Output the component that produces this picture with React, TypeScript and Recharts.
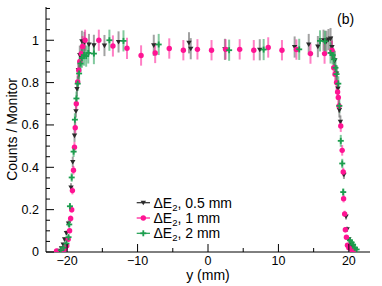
import React from 'react';
import { ScatterChart, Scatter, XAxis, YAxis, ErrorBar, Legend } from 'recharts';

// ---- data: ΔE2, 0.5 mm (dark, triangles) ----
const blackX = [-21.1, -20.8, -20.55, -20.35, -20.1, -19.8, -19.45, -19.2, -18.95, -18.75, -18.6, -18.4, -18.2, -17.9, -17.55, -16.9, -16.2, -14.7, -12.7, -7.7, -2.7, -2.45, 2.4, 7.35, 12.3, 14.3, 15.6, 16.4, 16.8, 17.1, 17.4, 17.6, 18.0, 18.25, 18.45, 18.65, 18.8, 19.3, 19.6, 19.75, 20.0, 20.3, 20.6, 20.9];
const blackY = [0.006, 0.018, 0.035, 0.06, 0.09, 0.135, 0.305, 0.425, 0.55, 0.665, 0.77, 0.86, 0.93, 0.995, 0.99, 0.98, 0.976, 0.975, 0.992, 0.976, 0.988, 0.96, 0.957, 0.955, 0.968, 0.98, 0.97, 1.0, 0.995, 1.003, 1.008, 0.968, 0.905, 0.843, 0.772, 0.67, 0.615, 0.365, 0.168, 0.108, 0.06, 0.035, 0.025, 0.012];
const blackErr = [0.004, 0.006, 0.008, 0.01, 0.012, 0.015, 0.02, 0.025, 0.03, 0.03, 0.035, 0.04, 0.045, 0.05, 0.05, 0.05, 0.05, 0.05, 0.05, 0.05, 0.05, 0.05, 0.05, 0.05, 0.05, 0.05, 0.05, 0.05, 0.05, 0.05, 0.05, 0.05, 0.045, 0.04, 0.04, 0.035, 0.03, 0.02, 0.015, 0.012, 0.01, 0.008, 0.006, 0.005];

// ---- data: ΔE2, 1 mm (magenta, circles) ----
const magentaX = [-21.5, -20.6, -20.3, -20.05, -19.85, -19.65, -19.5, -19.35, -19.25, -19.1, -18.96, -18.85, -18.7, -18.5, -18.35, -18.2, -18.0, -17.8, -17.45, -15.5, -13.5, -11.5, -9.5, -7.5, -5.5, -3.5, -1.5, 0.5, 2.5, 4.5, 6.5, 8.55, 10.5, 12.55, 14.55, 16.55, 17.6, 17.85, 18.05, 18.25, 18.4, 18.5, 18.6, 18.85, 19.05, 19.2, 19.25, 19.4, 19.5, 19.65, 19.8, 20.0, 20.4, 20.8];
const magentaY = [0.005, 0.008, 0.015, 0.03, 0.06, 0.1, 0.158, 0.2, 0.29, 0.386, 0.495, 0.587, 0.7, 0.803, 0.858, 0.9, 0.937, 0.97, 1.0, 1.0, 0.973, 0.962, 0.928, 0.94, 0.961, 0.953, 0.957, 0.953, 0.957, 0.957, 0.953, 0.966, 0.953, 0.956, 0.937, 0.937, 0.953, 0.87, 0.84, 0.8, 0.756, 0.73, 0.69, 0.595, 0.48, 0.378, 0.252, 0.18, 0.105, 0.07, 0.032, 0.02, 0.011, 0.005];
const magentaErr = [0.004, 0.004, 0.005, 0.007, 0.01, 0.012, 0.014, 0.015, 0.018, 0.02, 0.025, 0.028, 0.03, 0.035, 0.04, 0.04, 0.045, 0.05, 0.05, 0.05, 0.05, 0.05, 0.048, 0.048, 0.048, 0.048, 0.048, 0.048, 0.048, 0.048, 0.048, 0.048, 0.048, 0.048, 0.048, 0.048, 0.045, 0.04, 0.04, 0.035, 0.035, 0.033, 0.03, 0.028, 0.025, 0.02, 0.018, 0.015, 0.012, 0.01, 0.007, 0.006, 0.005, 0.004];

// ---- data: ΔE2, 2 mm (green, crosses) ----
const greenX = [-20.9, -20.5, -20.1, -19.8, -19.7, -19.6, -19.35, -19.08, -18.9, -18.68, -18.5, -18.3, -18.1, -17.9, -17.6, -17.3, -17.0, -16.2, -14.0, -12.0, -7.0, 3.0, 7.9, 12.95, 15.9, 16.6, 17.4, 17.7, 17.9, 18.1, 18.25, 18.5, 18.65, 18.85, 19.06, 19.2, 20.15, 20.4, 20.6, 20.85, 21.1];
const greenY = [0.008, 0.02, 0.04, 0.07, 0.13, 0.216, 0.352, 0.474, 0.625, 0.725, 0.795, 0.843, 0.89, 0.915, 0.93, 0.925, 0.94, 0.937, 1.0, 0.997, 0.98, 0.953, 0.956, 0.957, 0.997, 0.995, 0.94, 0.93, 0.91, 0.87, 0.84, 0.795, 0.69, 0.525, 0.418, 0.283, 0.055, 0.045, 0.035, 0.02, 0.012];
const greenErr = [0.004, 0.006, 0.008, 0.01, 0.013, 0.015, 0.02, 0.025, 0.03, 0.033, 0.035, 0.04, 0.04, 0.045, 0.05, 0.05, 0.05, 0.05, 0.05, 0.05, 0.05, 0.05, 0.05, 0.05, 0.05, 0.05, 0.05, 0.045, 0.045, 0.04, 0.04, 0.035, 0.033, 0.028, 0.022, 0.018, 0.01, 0.008, 0.007, 0.005, 0.004];

// ---- ticks / labels ----
const xTickValues = [-20, -15, -10, -5, 0, 5, 10, 15, 20];
const xMajorTicks = [-20, -10, 0, 10, 20];
const xTickLabels = ['\u221220', '\u221210', '0', '10', '20'];
const yTickValues = [0, 0.05, 0.1, 0.15, 0.2, 0.25, 0.3, 0.35, 0.4, 0.45, 0.5, 0.55, 0.6, 0.65, 0.7, 0.75, 0.8, 0.85, 0.9, 0.95, 1.0, 1.05, 1.1, 1.15];
const yMajorTicks = [0, 0.2, 0.4, 0.6, 0.8, 1.0];
const yTickLabels = ['0', '0.2', '0.4', '0.6', '0.8', '1'];
const seriesNames = ['0.5 mm', '1 mm', '2 mm'];

const FONT = '"Liberation Sans", Arial, Helvetica, sans-serif';
const C_BLACK = '#2b2b2b';
const C_MAG = '#ff1493';
const C_GREEN = '#1c9e4e';

const toPoints = (xs: number[], ys: number[], es: number[]) =>
  xs.map((x, i) => ({ x, y: ys[i], err: es[i] }));

const blackData = toPoints(blackX, blackY, blackErr);
const magentaData = toPoints(magentaX, magentaY, magentaErr);
const greenData = toPoints(greenX, greenY, greenErr);

const majorIndex = (list: number[], v: number) => list.findIndex((m) => Math.abs(m - v) < 1e-9);

const XTick = (props: any) => {
  const { x, y, payload } = props;
  const idx = majorIndex(xMajorTicks, payload.value);
  const major = idx >= 0;
  return (
    <g>
      <line x1={x} x2={x} y1={y} y2={y - (major ? 8 : 4)} stroke="#000" strokeWidth={1} />
      {major && (
        <text x={x} y={y + 13} textAnchor="middle" fontSize={12.5} fontFamily={FONT} fill="#000">
          {xTickLabels[idx]}
        </text>
      )}
    </g>
  );
};

const YTick = (props: any) => {
  const { x, y, payload } = props;
  const idx = majorIndex(yMajorTicks, payload.value);
  const major = idx >= 0;
  return (
    <g>
      <line x1={x} x2={x + (major ? 8 : 4)} y1={y} y2={y} stroke="#000" strokeWidth={1} />
      {major && (
        <text x={x - 7} y={y + 4.4} textAnchor="end" fontSize={12.5} fontFamily={FONT} fill="#000">
          {yTickLabels[idx]}
        </text>
      )}
    </g>
  );
};

const Triangle = ({ cx, cy, color }: any) => (
  <polygon
    points={`${cx - 2.7},${cy - 2} ${cx + 2.7},${cy - 2} ${cx},${cy + 2.6}`}
    fill={color}
  />
);
const Dot = ({ cx, cy, color }: any) => <circle cx={cx} cy={cy} r={2.7} fill={color} />;
const Plus = ({ cx, cy, color }: any) => (
  <g stroke={color} strokeWidth={1.8}>
    <line x1={cx - 3} x2={cx + 3} y1={cy} y2={cy} />
    <line x1={cx} x2={cx} y1={cy - 3} y2={cy + 3} />
  </g>
);

const legendColors = [C_BLACK, C_MAG, C_GREEN];
const legendMarkers = [Triangle, Dot, Plus];

const LegendContent = () => (
  <svg width={130} height={50} style={{ display: 'block' }}>
    {seriesNames.map((name, i) => {
      const cy = 9.7 + i * 15.3;
      const M = legendMarkers[i];
      return (
        <g key={name}>
          <line x1={8.7} x2={22} y1={cy} y2={cy} stroke={legendColors[i]} strokeWidth={1.2} />
          <M cx={15.3} cy={cy} color={legendColors[i]} />
          <text x={25.5} y={cy + 4.8} fontSize={14} fontFamily={FONT} fill="#000">
            {'\u0394E'}
            <tspan fontSize={9.5} dy={3}>2</tspan>
            <tspan dy={-3}>{', ' + name}</tspan>
          </text>
        </g>
      );
    })}
  </svg>
);

export default function App() {
  return (
    <div style={{ position: 'absolute', left: 0, top: 0, width: 382, height: 286, background: '#fff', fontFamily: FONT }}>
      <ScatterChart width={382} height={286} margin={{ top: 7, right: 12, bottom: 0, left: 0 }}>
        <XAxis
          type="number"
          dataKey="x"
          domain={[-23, 23]}
          allowDataOverflow
          ticks={xTickValues}
          interval={0}
          tick={XTick}
          tickSize={0}
          tickMargin={0}
          tickLine={false}
          height={34}
          axisLine={{ stroke: '#000', strokeWidth: 1 }}
          label={{ value: 'y (mm)', position: 'insideBottom', offset: 6, style: { fontSize: 14, fill: '#000', fontFamily: FONT } }}
        />
        <XAxis
          xAxisId="top"
          orientation="top"
          type="number"
          domain={[-23, 23]}
          height={0}
          tick={false}
          tickLine={false}
          axisLine={{ stroke: '#000', strokeWidth: 1 }}
        />
        <YAxis
          type="number"
          dataKey="y"
          domain={[0, 1.157]}
          allowDataOverflow
          ticks={yTickValues}
          interval={0}
          tick={YTick}
          tickSize={0}
          tickMargin={0}
          tickLine={false}
          width={46}
          axisLine={{ stroke: '#000', strokeWidth: 1 }}
          label={{ value: 'Counts / Monitor', angle: -90, position: 'insideLeft', offset: 12, style: { textAnchor: 'middle', fontSize: 14, fill: '#000', fontFamily: FONT } }}
        />
        <YAxis
          yAxisId="right"
          orientation="right"
          type="number"
          domain={[0, 1.157]}
          width={0}
          tick={false}
          tickLine={false}
          axisLine={{ stroke: '#000', strokeWidth: 1 }}
        />
        <Legend
          layout="horizontal"
          verticalAlign="middle"
          align="center"
          content={LegendContent}
          wrapperStyle={{ left: 128, top: 193, width: 130, height: 50 }}
        />
        <Scatter name="ΔE2, 0.5 mm" data={blackData} isAnimationActive={false} shape={(p: any) => <Triangle cx={p.cx} cy={p.cy} color={C_BLACK} />}>
          <ErrorBar dataKey="err" direction="y" width={0} stroke="#555" strokeOpacity={0.55} strokeWidth={2} isAnimationActive={false} />
        </Scatter>
        <Scatter name="ΔE2, 1 mm" data={magentaData} isAnimationActive={false} shape={(p: any) => <Dot cx={p.cx} cy={p.cy} color={C_MAG} />}>
          <ErrorBar dataKey="err" direction="y" width={0} stroke={C_MAG} strokeOpacity={0.55} strokeWidth={2} isAnimationActive={false} />
        </Scatter>
        <Scatter name="ΔE2, 2 mm" data={greenData} isAnimationActive={false} shape={(p: any) => <Plus cx={p.cx} cy={p.cy} color={C_GREEN} />}>
          <ErrorBar dataKey="err" direction="y" width={0} stroke={C_GREEN} strokeOpacity={0.55} strokeWidth={2} isAnimationActive={false} />
        </Scatter>
      </ScatterChart>
      <div style={{ position: 'absolute', left: 337, top: 11, fontSize: 14, lineHeight: '16px', fontFamily: FONT, color: '#000' }}>(b)</div>
    </div>
  );
}
